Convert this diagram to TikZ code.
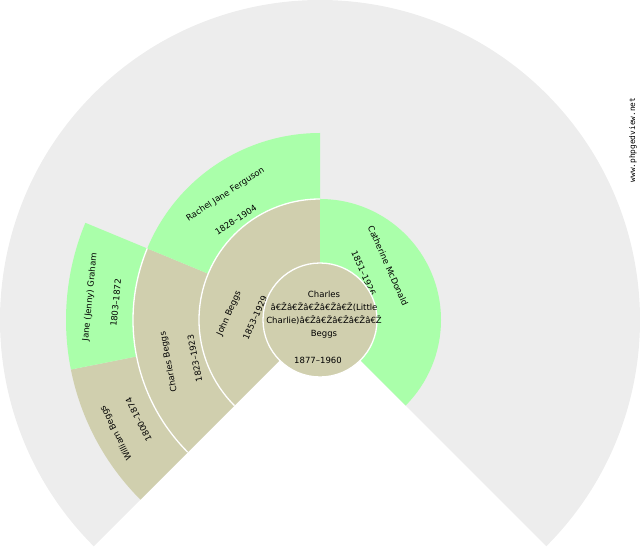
\documentclass[tikz,border=0pt]{standalone}
\usepackage{fontspec}
\newfontfamily\fanfont{DejaVu Sans}
\newfontfamily\markfont{DejaVu Sans Mono}
\usetikzlibrary{calc}
\definecolor{fanbg}{RGB}{237,237,237}
\definecolor{femfill}{RGB}{170,255,170}
\definecolor{malefill}{RGB}{208,207,174}
% annular sector: colour, start angle, end angle, inner radius, outer radius
\newcommand{\fanwedge}[5]{\fill[#1] (#2:#4) arc[start angle=#2, end angle=#3, radius=#4] -- (#3:#5) arc[start angle=#3, end angle=#2, radius=#5] -- cycle;}

\begin{document}
\begin{tikzpicture}[x=1pt, y=1pt, lbl/.style={font=\fanfont\fontsize{8.5}{10}\selectfont, inner sep=0pt}, sep/.style={white, line width=1.3}]
  \useasboundingbox (0,0) rectangle (640,550);
  \coordinate (c) at (320,230);
  \begin{scope}[shift={(c)}]
  \fill[fanbg] (0,0) -- (-45:320) arc[start angle=-45, end angle=225, radius=320] -- cycle;

  \fanwedge{malefill}{90}{225}{57}{121}
  \fanwedge{femfill}{-45}{90}{57}{121}
  \fanwedge{malefill}{157.5}{225}{121}{187}
  \fanwedge{femfill}{90}{157.5}{121}{187}
  \fanwedge{malefill}{191.25}{225}{187}{254}
  \fanwedge{femfill}{157.5}{191.25}{187}{254}

  \draw[sep] (90:121) arc[start angle=90, end angle=225, radius=121];
  \draw[sep] (157.5:187) arc[start angle=157.5, end angle=225, radius=187];

  \node[lbl, rotate=66] (johnname) at (176:91) {John Beggs};
  \node[lbl, rotate=66] (johndates) at (178:65) {1853–1929};
  \node[lbl, rotate=-66] (cathname) at (38.5:87) {Catherine McDonald};
  \node[lbl, rotate=-66] (cathdates) at (47:64) {1851–1926};
  \node[lbl, rotate=33] (rachname) at (127:157) {Rachel Jane Ferguson};
  \node[lbl, rotate=33] (rachdates) at (130:131) {1828–1904};
  \node[lbl, rotate=101] (charname) at (195.5:157) {Charles Beggs};
  \node[lbl, rotate=101] (chardates) at (197:131) {1823–1923};
  \node[lbl, rotate=84.4] (janename) at (174.3:231) {Jane (Jenny) Graham};
  \node[lbl, rotate=84.4] (janedates) at (175.2:205) {1803–1872};
  \node[lbl, rotate=117] (willname) at (209:233) {William Beggs};
  \node[lbl, rotate=117] (willdates) at (208.8:207) {1800–1874};

  \fill[malefill, draw=white, line width=1.3] (0,0) circle[radius=57];
  \node[lbl, align=center, font=\fanfont\fontsize{8.5}{13}\selectfont] (rootname) at (4,5) {Charles\\â€Žâ€Žâ€Žâ€Žâ€Ž(Little\\Charlie)â€Žâ€Žâ€Žâ€Žâ€Ž\\Beggs};
  \node[lbl] (rootdates) at (-2,-40) {1877–1960};
  \end{scope}

  \node[font=\markfont\fontsize{7.8}{9}\selectfont, rotate=90, inner sep=0pt] (site) at (633,410) {www.phpgedview.net};
\end{tikzpicture}
\end{document}
